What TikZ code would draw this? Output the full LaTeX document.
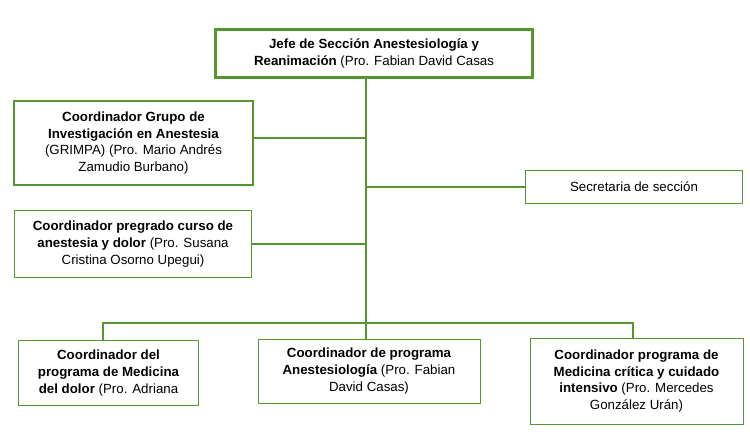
\documentclass[tikz,border=0pt]{standalone}
\usepackage{fontspec}
\setmainfont{Liberation Sans}
\definecolor{grn}{RGB}{84,151,48}
\begin{document}
\begin{tikzpicture}[x=1pt,y=-1pt,
  box/.style={draw=grn, line width=1pt, fill=white, anchor=north west, align=center,
    inner sep=0pt, font=\fontsize{13.3}{16.8}\selectfont},
  link/.style={draw=grn, line width=2pt}]
\useasboundingbox (0,0) rectangle (750,440);
\fill[white] (0,0) rectangle (750,440);
% boxes
\node[box, line width=3pt, minimum width=317pt, minimum height=48pt] (jefe) at (214,28)
  {\textbf{Jefe de Sección Anestesiología y}\\\textbf{Reanimación} (Pro. Fabian David Casas};
\node[box, line width=2pt, minimum width=239pt, minimum height=84pt] (grimpa) at (13,100)
  {\textbf{Coordinador Grupo de}\\\textbf{Investigación en Anestesia}\\(GRIMPA) (Pro. Mario Andrés\\Zamudio Burbano)};
\node[box, minimum width=217pt, minimum height=33pt] (sec) at (525,170)
  {Secretaria de sección};
\node[box, minimum width=237pt, minimum height=67pt] (pre) at (14,210)
  {\textbf{Coordinador pregrado curso de}\\\textbf{anestesia y dolor} (Pro. Susana\\Cristina Osorno Upegui)};
\node[box, minimum width=180pt, minimum height=65pt] (b1) at (18,340)
  {\textbf{Coordinador del}\\\textbf{programa de Medicina}\\\textbf{del dolor} (Pro. Adriana};
\node[box, minimum width=222pt, minimum height=64pt] (b2) at (257.5,338.5)
  {\textbf{Coordinador de programa}\\\textbf{Anestesiología} (Pro. Fabian\\David Casas)};
\node[box, minimum width=213pt, minimum height=86pt] (b3) at (529.5,337.5)
  {\textbf{Coordinador programa de}\\\textbf{Medicina crítica y cuidado}\\\textbf{intensivo} (Pro. Mercedes\\González Urán)};
% junction points
\coordinate (bus) at (366,323);
\coordinate (j1) at (366,137.5);
\coordinate (d1) at (103,323);
\coordinate (d3) at (633,323);
% connectors
\draw[link] (jefe.south -| bus) -- (bus);
\draw[link] (grimpa.east |- j1) -- (j1);
\draw[link] (sec.west) -- (sec.west -| bus);
\draw[link] (pre.east) -- (pre.east -| bus);
\draw[link] (d1 |- b1.north) -- (d1) -- (d3) -- (d3 |- b3.north);
\draw[link] (bus) -- (bus |- b2.north);
\end{tikzpicture}
\end{document}
